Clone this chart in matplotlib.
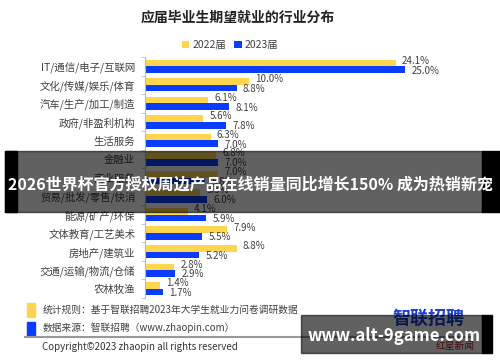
import matplotlib
matplotlib.use('Agg')
import matplotlib.pyplot as plt
from matplotlib.patches import Rectangle
import numpy as np

plt.rcParams['font.family'] = ['Noto Sans CJK SC', 'DejaVu Sans']

categories = ['IT/通信/电子/互联网', '文化/传媒/娱乐/体育', '汽车/生产/加工/制造',
              '政府/非盈利机构', '生活服务', '金融业', '商业服务',
              '贸易/批发/零售/快消', '能源/矿产/环保', '文体教育/工艺美术',
              '房地产/建筑业', '交通/运输/物流/仓储', '农林牧渔']
share_2022 = [24.1, 10.0, 6.1, 5.6, 6.3, 6.8, 7.0, 5.3, 4.1, 7.9, 8.8, 2.8, 1.4]
share_2023 = [25.0, 8.8, 8.1, 7.8, 7.0, 7.0, 5.8, 6.0, 5.9, 5.5, 5.2, 2.9, 1.7]

yellow = '#FFD54F'
blue = '#0A3CFF'
txt = '#404040'

W, H = 500, 362
fig = plt.figure(figsize=(5, 3.62), dpi=100)

def fx(px):
    return px / W

def fy(py):
    return 1 - py / H

ax = fig.add_axes([fx(145), fy(298), fx(281), (298 - 57) / H])
y = np.arange(len(categories))
bh = 0.36
ax.barh(y - bh / 2, share_2022, height=bh, color=yellow, label='2022届')
ax.barh(y + bh / 2, share_2023, height=bh, color=blue, label='2023届')
for i in range(len(categories)):
    ax.text(share_2022[i] + 0.6, y[i] - bh / 2 - 0.12, f'{share_2022[i]:.1f}%',
            va='center', ha='left', fontsize=7, color=txt)
    ax.text(share_2023[i] + 0.6, y[i] + bh / 2 + 0.05, f'{share_2023[i]:.1f}%',
            va='center', ha='left', fontsize=7, color=txt)

ax.set_xlim(0, 27)
ax.set_ylim(len(categories) - 0.5, -0.5)
ax.set_yticks(y)
ax.set_yticklabels(categories, fontsize=7.5, color=txt)
ax.tick_params(axis='y', which='major', length=0, pad=7)
ax.set_yticks(np.arange(-0.5, len(categories), 1), minor=True)
ax.tick_params(axis='y', which='minor', length=3, color='#bbbbbb')
ax.set_xticks([])
for s in ['top', 'right', 'bottom']:
    ax.spines[s].set_visible(False)
ax.spines['left'].set_color('#bbbbbb')

fig.text(fx(238), fy(18), '应届毕业生期望就业的行业分布', ha='center', va='center',
         fontsize=10, fontweight='bold', color='#222222')
fig.legend(loc='center', bbox_to_anchor=(fx(230), fy(45)), ncol=2, frameon=False,
           handlelength=0.7, handleheight=0.7, columnspacing=0.8, handletextpad=0.3,
           fontsize=7.5, labelcolor=txt)

# footer
fig.patches.append(Rectangle((fx(27), fy(317)), fx(8), 14 / H, color=yellow,
                             transform=fig.transFigure, figure=fig))
fig.patches.append(Rectangle((fx(27), fy(336)), fx(8), 14 / H, color=blue,
                             transform=fig.transFigure, figure=fig))
fig.text(fx(43), fy(310), '统计规则：基于智联招聘2023年大学生就业力问卷调研数据',
         va='center', fontsize=7, color=txt)
fig.text(fx(43), fy(328), '数据来源：智联招聘（www.zhaopin.com）',
         va='center', fontsize=7, color=txt)
fig.add_artist(plt.Line2D([fx(25), fx(470)], [fy(337), fy(337)], color='#999999',
                          lw=1.5, transform=fig.transFigure))
fig.text(fx(42), fy(347), 'Copyright©2023 zhaopin all rights reserved',
         va='center', fontsize=7, color='#333333')
fig.text(fx(428), fy(318), '智联招聘', ha='center', va='center', fontsize=13,
         fontweight='bold', color='#1a3fd8')
fig.text(fx(455), fy(346), '红星新闻', ha='center', va='center', fontsize=7,
         color='#b22222')

# overlay banner
fig.patches.append(Rectangle((0.01, fy(212)), fx(477), 61 / H, color='black', alpha=0.62,
                             transform=fig.transFigure, figure=fig, zorder=10))
fig.patches.append(Rectangle((0.01, fy(212)), fx(12), 61 / H, color='black',
                             transform=fig.transFigure, figure=fig, zorder=10))
fig.patches.append(Rectangle((fx(482), fy(212)), fx(18), 61 / H, color='black',
                             transform=fig.transFigure, figure=fig, zorder=10))
fig.text(0.5, fy(185), '2026世界杯官方授权周边产品在线销量同比增长150% 成为热销新宠',
         ha='center', va='center', fontsize=11.5, fontweight='bold', color='white', zorder=11)

# bottom watermark
fig.patches.append(Rectangle((fx(301), fy(353)), fx(181), 38 / H, color='black', alpha=0.62,
                             transform=fig.transFigure, figure=fig, zorder=10))
fig.patches.append(Rectangle((fx(482), fy(353)), fx(10), 38 / H, color='black',
                             transform=fig.transFigure, figure=fig, zorder=10))
fig.text(fx(394), fy(336), 'www.alt-9game.com', ha='center', va='center',
         fontsize=12, fontweight='bold', color='white', zorder=11)

fig.savefig('out.png', dpi=100)
